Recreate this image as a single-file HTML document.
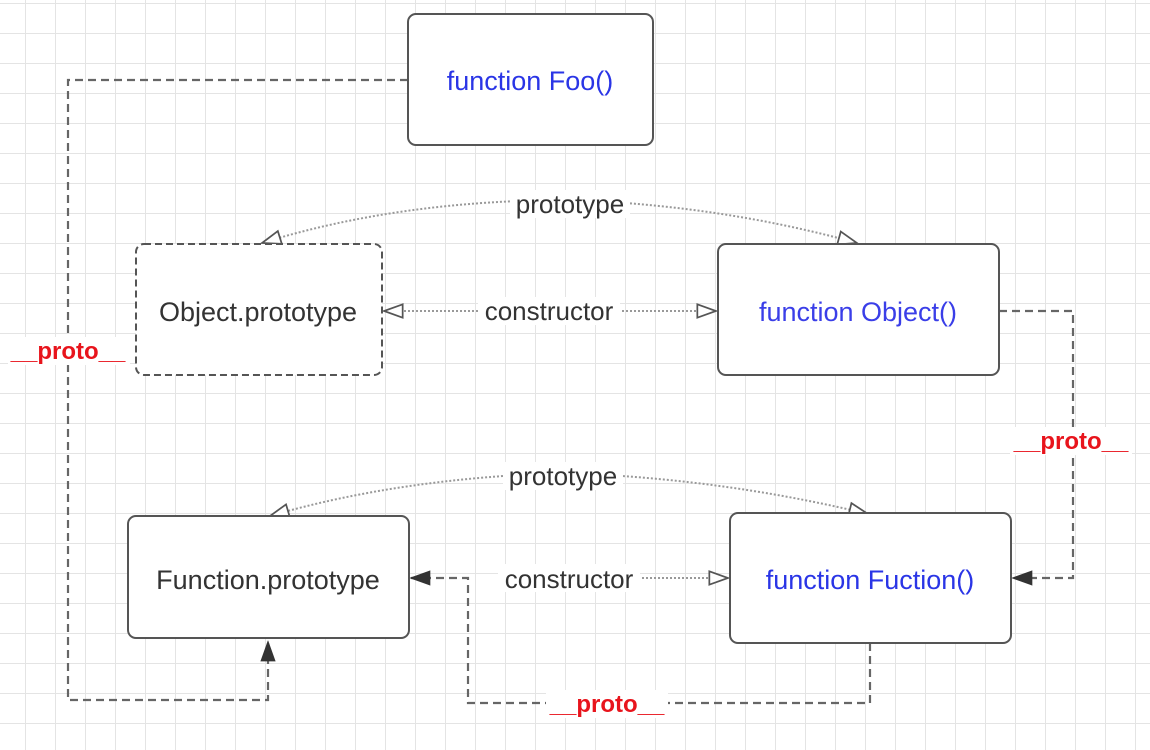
<!DOCTYPE html>
<html><head><meta charset="utf-8"><style>
html,body{margin:0;padding:0;background:#fff;}
svg{display:block;}
text{font-family:"Liberation Sans","DejaVu Sans",sans-serif;}
</style></head><body>
<svg width="1150" height="750" viewBox="0 0 1150 750" xmlns="http://www.w3.org/2000/svg">
<defs>
<pattern id="g" x="25" y="3" width="30" height="30" patternUnits="userSpaceOnUse">
<path d="M0 0H30M0 0V30" stroke="#e4e4e4" stroke-width="2" fill="none"/>
</pattern>
<marker id="hol" viewBox="0 0 16 12" refX="15" refY="6" markerWidth="22" markerHeight="16" markerUnits="userSpaceOnUse" orient="auto">
<path d="M1 1 L15 6 L1 11 Z" fill="#fff" stroke="#555" stroke-width="1.3"/>
</marker>
<marker id="fil" viewBox="0 0 16 12" refX="15" refY="6" markerWidth="22" markerHeight="16" markerUnits="userSpaceOnUse" orient="auto">
<path d="M1 1 L15 6 L1 11 Z" fill="#333" stroke="#333" stroke-width="1"/>
</marker>
</defs>
<rect width="1150" height="750" fill="url(#g)"/>

<g fill="none" stroke="#666" stroke-width="2.2" stroke-dasharray="8,5">
<path d="M408 80 H68 V700 H268 V642" marker-end="url(#fil)"/>
<path d="M999 311 H1073 V578 H1013" marker-end="url(#fil)"/>
<path d="M870 643 V703 H468 V578 H411" marker-end="url(#fil)"/>
</g>

<g fill="none" stroke="#999" stroke-width="2" stroke-dasharray="2,2">
<path d="M570 200 Q400 200 262 243" marker-end="url(#hol)"/>
<path d="M570 200 Q720 205 857 243" marker-end="url(#hol)"/>
<path d="M563 473 Q400 478 270 516" marker-end="url(#hol)"/>
<path d="M563 473 Q720 478 868 514" marker-end="url(#hol)"/>
<path d="M550 311 H384" marker-end="url(#hol)"/>
<path d="M550 311 H716" marker-end="url(#hol)"/>
<path d="M570 578 H728" marker-end="url(#hol)"/>
</g>

<g stroke="#555" stroke-width="2" fill="#fff">
<rect x="408" y="14" width="245" height="131" rx="8"/>
<rect x="136" y="244" width="246" height="131" rx="8" stroke-dasharray="7,4"/>
<rect x="718" y="244" width="281" height="131" rx="8"/>
<rect x="128" y="516" width="281" height="122" rx="8"/>
<rect x="730" y="513" width="281" height="130" rx="8"/>
</g>

<g font-size="27" text-anchor="middle">
<text x="530" y="90" fill="#2a35e6">function Foo()</text>
<text x="258" y="321" fill="#333">Object.prototype</text>
<text x="858" y="321" fill="#3a3ee8">function Object()</text>
<text x="268" y="589" fill="#333">Function.prototype</text>
<text x="870" y="589" fill="#2a35e6">function Fuction()</text>
</g>

<g fill="#fff">
<rect x="510" y="190" width="120" height="28"/>
<rect x="503" y="462" width="120" height="28"/>
<rect x="478" y="297" width="142" height="28"/>
<rect x="498" y="564" width="142" height="28"/>
<rect x="8" y="337" width="122" height="28"/>
<rect x="1010" y="427" width="122" height="28"/>
<rect x="546" y="690" width="122" height="28"/>
</g>
<g font-size="26" text-anchor="middle" fill="#333">
<text x="570" y="213">prototype</text>
<text x="563" y="485">prototype</text>
<text x="549" y="320">constructor</text>
<text x="569" y="588">constructor</text>
</g>
<g font-size="24" font-weight="bold" text-anchor="middle" fill="#e8141c">
<text x="68" y="359">__proto__</text>
<text x="1071" y="449">__proto__</text>
<text x="607" y="712">__proto__</text>
</g>
</svg>
</body></html>
